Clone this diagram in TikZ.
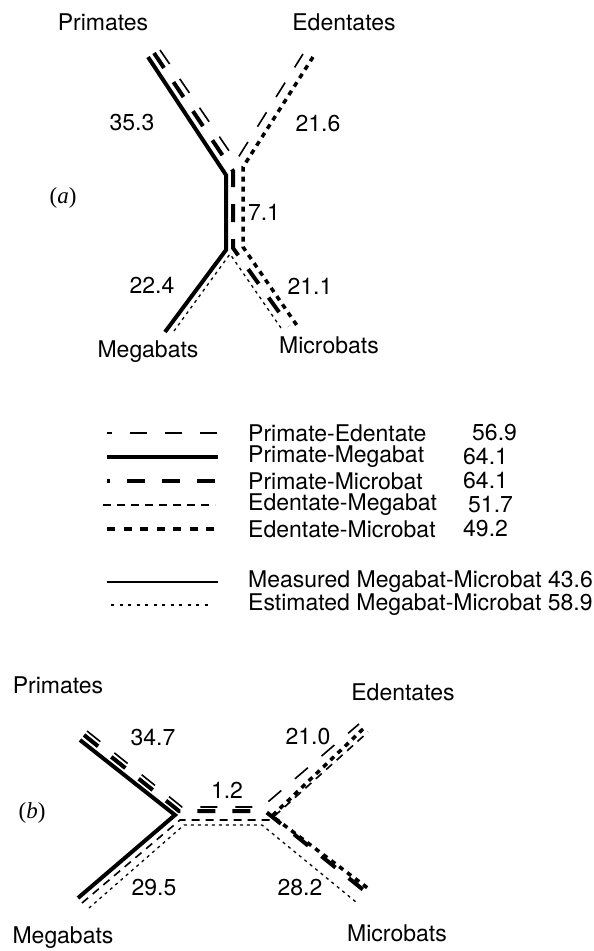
\documentclass[tikz,border=0pt]{standalone}
\usepackage{fontspec}
\setmainfont{TeX Gyre Heros}
\newfontfamily\serifit{Liberation Serif}
\usepackage{tikz}

\tikzset{
    primed/.style={line width=1.6pt, dash pattern=on 17pt off 18pt},
    primeg/.style={line width=4pt},
    primic/.style={line width=4pt, dash pattern=on 18pt off 17pt},
    edmeg/.style={line width=1.6pt, dash pattern=on 8pt off 6pt},
    edmic/.style={line width=3.5pt, dash pattern=on 5pt off 5pt},
    measured/.style={line width=2pt},
    estimated/.style={line width=1.3pt, dash pattern=on 3pt off 4pt},
    taxon/.style={font=\fontsize{23}{27}\selectfont, inner sep=0pt},
    panel/.style={font=\serifit\fontsize{23}{27}\selectfont, inner sep=0pt},
}

\begin{document}
\begin{tikzpicture}[x=1pt, y=-1pt]
\useasboundingbox (0,0) rectangle (594,951);
% tree (a)
    \draw[primeg] (148,57)--(226,175)--(226,250)--(165,332);
    \draw[primic] (154,53)--(233,171)--(233,248)--(289,326);
    \draw[primed] (160,50)--(236,161)--(303,54);
    \draw[edmic] (313,57)--(243,167)--(243,247)--(298,327);
    \draw[estimated] (174,331)--(230,254)--(281,328);
    \node[taxon] (Pa) at (103,22) {Primates};
    \node[taxon] (Ea) at (344,22) {Edentates};
    \node[taxon] (Mga) at (148,352) {Megabats};
    \node[taxon] (Mia) at (329,345) {Microbats};
    \node[taxon] (la1) at (132,123) {35.3};
    \node[taxon] (la2) at (318,124) {21.6};
    \node[taxon] (la3) at (264,212) {7.1};
    \node[taxon] (la4) at (152,285) {22.4};
    \node[taxon] (la5) at (310,286) {21.1};
    \node[panel] (pa) at (63,198) {(\textit{a})};
% legend
    \draw[primed, dash phase=12pt] (107,433)--(218,433);
    \draw[primeg] (107,457)--(218,457);
    \draw[primic, dash phase=15pt] (107,481)--(215,481);
    \draw[edmeg] (103,505)--(215,505);
    \draw[edmic, dash pattern=on 8pt off 8.5pt] (107,529)--(216,529);
    \draw[measured] (107,582)--(218,582);
    \draw[estimated, dash pattern=on 3pt off 5.5pt] (111,605)--(212,605);
    \node[taxon, anchor=west] (k1) at (248,433) {Primate-Edentate};
    \node[taxon, anchor=west] (k2) at (248,457) {Primate-Megabat};
    \node[taxon, anchor=west] (k3) at (248,481) {Primate-Microbat};
    \node[taxon, anchor=west] (k4) at (248,505) {Edentate-Megabat};
    \node[taxon, anchor=west] (k5) at (248,529) {Edentate-Microbat};
    \node[taxon, anchor=west] (k6) at (248,582) {Measured Megabat-Microbat 43.6};
    \node[taxon, anchor=west] (k7) at (248,605) {Estimated Megabat-Microbat 58.9};
    \node[taxon, anchor=west] (v1) at (472,433) {56.9};
    \node[taxon, anchor=west] (v2) at (463,457) {64.1};
    \node[taxon, anchor=west] (v3) at (463,481) {64.1};
    \node[taxon, anchor=west] (v4) at (468,505) {51.7};
    \node[taxon, anchor=west] (v5) at (463,529) {49.2};
% tree (b)
    \draw[primeg] (80,740)--(175,815)--(78,898);
    \draw[primed] (87,731)--(182,807)--(262,807)--(359,724);
    \draw[primic] (84,735)--(179,811)--(265,811)--(366,892);
    \draw[edmeg] (82,903)--(180,820)--(270,820)--(368,732);
    \draw[edmic] (363,729)--(272,816)--(369,889);
    \draw[estimated] (89,908)--(184,825)--(262,825)--(356,902);
    \node[taxon] (Pb) at (58,685) {Primates};
    \node[taxon] (Eb) at (403,692) {Edentates};
    \node[taxon] (Mgb) at (63,938) {Megabats};
    \node[taxon] (Mib) at (397,933) {Microbats};
    \node[taxon] (lb1) at (153,738) {34.7};
    \node[taxon] (lb2) at (308,737) {21.0};
    \node[taxon] (lb3) at (227,790) {1.2};
    \node[taxon] (lb4) at (154,888) {29.5};
    \node[taxon] (lb5) at (300,888) {28.2};
    \node[panel] (pb) at (32,813) {(\textit{b})};
\end{tikzpicture}
\end{document}
